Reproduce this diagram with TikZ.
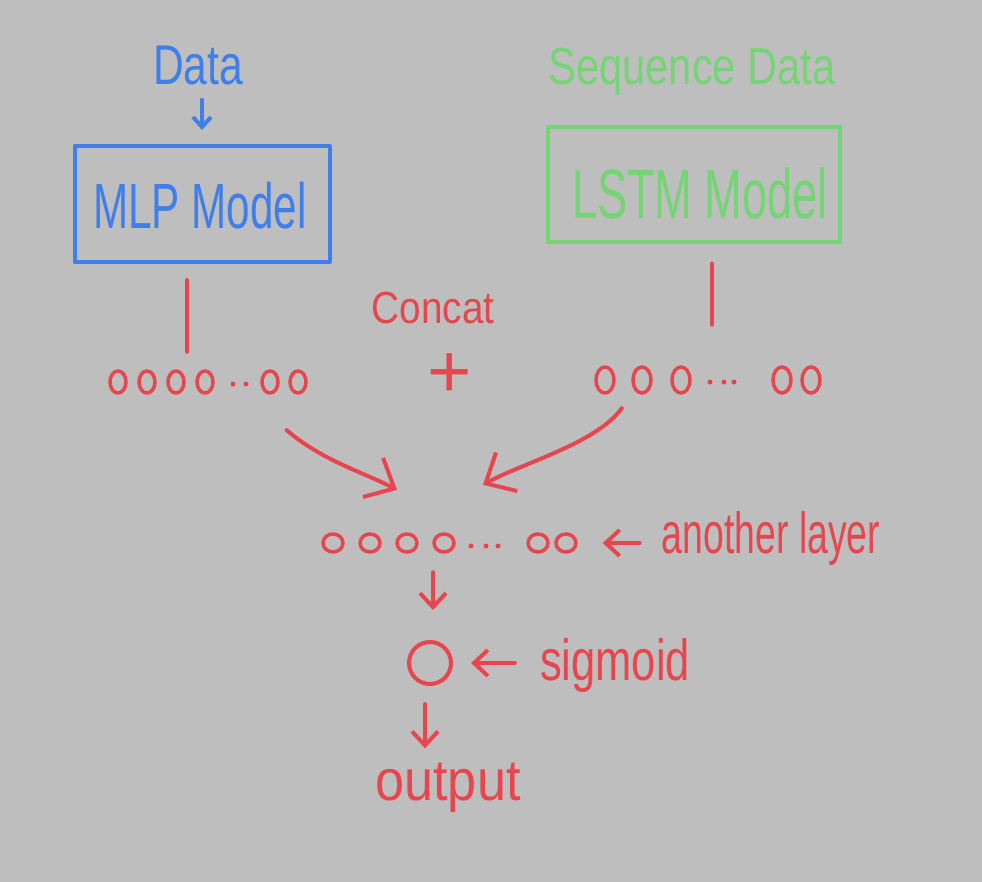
\documentclass[tikz,border=0pt]{standalone}
\usepackage{fontspec}
\setmainfont{Liberation Sans}
\usetikzlibrary{arrows.meta,calc}
\definecolor{bg}{HTML}{BEBEBE}
\definecolor{hblue}{HTML}{3F7FEC}
\definecolor{hgreen}{HTML}{74D574}
\definecolor{hred}{HTML}{E8464E}
\tikzset{
  pen/.style={line width=4pt, line cap=round, line join=round},
  lbl/.style={inner sep=0pt, anchor=base},
  rowbox/.style={inner sep=0pt, draw=none},
  bigarr/.style={pen, hred, -{Straight Barb[length=24pt,width=44pt]}},
  smallarr/.style={pen, hred, -{Straight Barb[length=14pt,width=26pt]}},
  neur/.style={hred, line width=3.5pt},
}
\begin{document}
\begin{tikzpicture}[x=1pt,y=-1pt]
\fill[bg] (0,0) rectangle (982,882);
\useasboundingbox (0,0) rectangle (982,882);

% ---- blue branch
\node[lbl, hblue, xscale=0.76, font=\fontsize{56}{60}\selectfont] (data) at (198,85) {Data};
\node[pen, draw=hblue, rectangle, minimum width=255pt, minimum height=116pt] (mlp) at (202,204) {};
\node[lbl, hblue, xscale=0.66, font=\fontsize{64}{68}\selectfont] (mlptext) at (200,229) {MLP Model};
\draw[pen, hblue, -{Straight Barb[length=10pt,width=18pt]}, shorten <=14pt, shorten >=14pt] (data.south -| mlp.north) -- (mlp.north);

% ---- green branch
\node[lbl, hgreen, xscale=0.8, font=\fontsize{52}{56}\selectfont] (seq) at (692,85) {Sequence Data};
\node[pen, draw=hgreen, rectangle, minimum width=292pt, minimum height=115pt] (lstm) at (694,185) {};
\node[lbl, hgreen, xscale=0.645, font=\fontsize{70}{74}\selectfont] (lstmtext) at (700,219) {LSTM Model};

% ---- rows of neurons
\node[rowbox, minimum width=205pt, minimum height=24pt] (leftrow) at (205,382) {};
\foreach \x in {118,147,176,205,270,298} \draw[neur] (\x,382) ellipse (8pt and 11pt);
\foreach \x in {233,246} \fill[hred] (\x,384) circle (2.5pt);

\node[rowbox, minimum width=230pt, minimum height=30pt] (rightrow) at (708,380) {};
\foreach \x in {605,642,681,782,811} \draw[neur] (\x,380) ellipse (9pt and 13pt);
\foreach \x in {710,724,734} \fill[hred] (\x,382) circle (2.5pt);

\node[rowbox, minimum width=255pt, minimum height=22pt] (midrow) at (450,543) {};
\foreach \x in {333,370,407,444,538,566} \draw[neur] (\x,543) ellipse (10pt and 9pt);
\foreach \x in {471,486,498} \fill[hred] (\x,546) circle (2.5pt);

% ---- vertical lines
\draw[pen, hred, shorten <=16pt] ([xshift=-15pt]mlp.south) -- ([xshift=-15pt,yshift=18pt]mlp.south |- leftrow.north);
\draw[pen, hred, shorten <=19pt] ([xshift=18pt]lstm.south) -- ([xshift=18pt,yshift=40pt]lstm.south |- rightrow.north);

% ---- concat and plus
\node[lbl, hred, xscale=0.86, font=\fontsize{45}{50}\selectfont] (concat) at (433,324) {Concat};
\node[hred, inner sep=0pt, font=\fontsize{76}{80}\selectfont] (plus) at (450,376) {+};

% ---- curved arrows into the middle layer
\draw[bigarr] ([xshift=-21pt,yshift=-36pt]leftrow.south east) .. controls +(35,30) and +(-35,-18) .. ([xshift=-53pt,yshift=42pt]midrow.north);
\draw[bigarr] ([xshift=29pt,yshift=-13pt]rightrow.south west) .. controls +(-25,35) and +(40,-22) .. ([xshift=33pt,yshift=47pt]midrow.north);

% ---- another layer
\node[lbl, hred, xscale=0.645, font=\fontsize{58}{62}\selectfont] (another) at (771,553) {another layer};
\draw[smallarr, shorten <=22pt, shorten >=25pt] (another.west |- midrow.east) -- (midrow.east);

% ---- output neuron
\node[circle, draw=hred, line width=4pt, minimum size=42pt, inner sep=0pt] (neuron) at (430,663) {};
\draw[smallarr, shorten <=18pt, shorten >=30pt] ([xshift=3pt]midrow.south -| neuron.north) -- ([xshift=3pt]neuron.north);

\node[lbl, hred, xscale=0.75, font=\fontsize{58}{62}\selectfont] (sigmoid) at (615,680) {sigmoid};
\draw[smallarr, shorten <=25pt, shorten >=18pt] (sigmoid.west |- neuron.east) -- (neuron.east);

\node[lbl, hred, xscale=0.9, font=\fontsize{58}{62}\selectfont] (output) at (448,800) {output};
\draw[smallarr, shorten <=18pt, shorten >=14pt] ([xshift=-5pt]neuron.south) -- ([xshift=-5pt]neuron.south |- output.north);
\end{tikzpicture}
\end{document}
